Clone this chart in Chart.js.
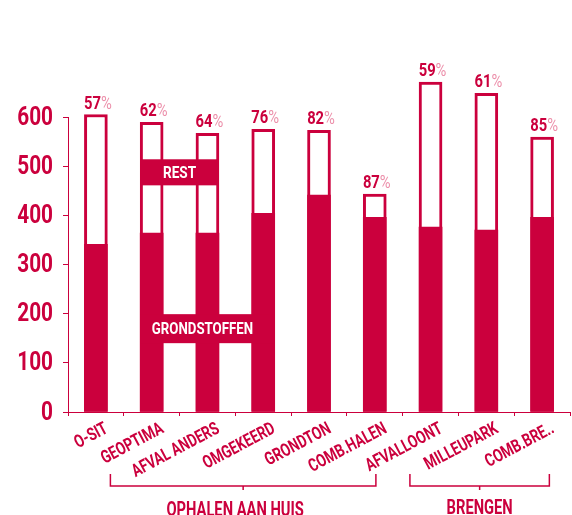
<!DOCTYPE html>
<html>
<head>
<meta charset="utf-8">
<script src="https://cdn.jsdelivr.net/npm/chart.js@4/dist/chart.umd.min.js"></script>
<style>
  html, body { margin: 0; padding: 0; background: #fff; }
  #wrap { width: 572px; height: 515px; }
</style>
</head>
<body>
<div id="wrap"><canvas id="grafiek" width="572" height="515"></canvas></div>
<script>
// data
const categories = ['O-SIT', 'GEOPTIMA', 'AFVAL ANDERS', 'OMGEKEERD', 'GRONDTON', 'COMB.HALEN', 'AFVALLOONT', 'MILLEUPARK', 'COMB.BRE..'];
const totaal = [605, 589, 567, 575, 573, 443, 671, 648, 559];
const grondstoffen = [341, 364, 364, 404, 441, 396, 376, 370, 396];
const percentages = ['57', '62', '64', '76', '82', '87', '59', '61', '85'];
const groepen = ['OPHALEN AAN HUIS', 'BRENGEN'];
const yMax = 600;
const yStap = 100;

const ROOD = '#CB003D';
const ROZE = '#EC8FAA';
const FONT = "Roboto, 'DejaVu Sans', sans-serif";

// tekst smaller tekenen (het origineel gebruikt een smal lettertype)
function smalleTekst(ctx, tekst, x, y, sx, align) {
    ctx.save();
    ctx.translate(x, y);
    ctx.scale(sx, 1);
    ctx.textAlign = align;
    ctx.fillText(tekst, 0, 0);
    ctx.restore();
}

// aslabels zelf tekenen zodat ze smal kunnen
const asLabels = {
    id: 'asLabels',
    afterDraw(chart) {
        const ctx = chart.ctx;
        const x = chart.scales.x;
        const y = chart.scales.y;
        ctx.save();
        ctx.fillStyle = ROOD;
        ctx.textBaseline = 'middle';

        // y-as
        ctx.font = 'bold 26px ' + FONT;
        y.ticks.forEach(t => {
            smalleTekst(ctx, String(t.value), 53, y.getPixelForValue(t.value) + 1, 0.8, 'right');
        });

        // x-as, schuin
        ctx.font = 'bold 18px ' + FONT;
        chart.data.labels.forEach((lab, i) => {
            const px = x.getPixelForTick(i);
            ctx.save();
            ctx.translate(px + 11, x.top + 16);
            ctx.rotate(-28 * Math.PI / 180);
            ctx.scale(0.75, 1);
            ctx.textAlign = 'right';
            ctx.fillText(lab, 0, 0);
            ctx.restore();
        });
        ctx.restore();
    }
};

// extra tekeningen: labels in de staven, percentages en groepshaken
const annotaties = {
    id: 'annotaties',
    afterDatasetsDraw(chart) {
        const ctx = chart.ctx;
        const x = chart.scales.x;
        const y = chart.scales.y;
        const half = 11.5;

        ctx.save();
        ctx.textBaseline = 'middle';

        // REST blok
        let l = x.getPixelForValue(1) - half;
        let r = x.getPixelForValue(2) + half;
        let t = y.getPixelForValue(514);
        let b = y.getPixelForValue(461);
        ctx.fillStyle = ROOD;
        ctx.fillRect(l, t, r - l, b - t);
        ctx.fillStyle = '#fff';
        ctx.font = 'bold 17px ' + FONT;
        smalleTekst(ctx, 'REST', (l + r) / 2, (t + b) / 2 + 1, 0.8, 'center');

        // GRONDSTOFFEN blok
        l = x.getPixelForValue(1) - half;
        r = x.getPixelForValue(3) + half;
        t = y.getPixelForValue(199);
        b = y.getPixelForValue(140);
        ctx.fillStyle = ROOD;
        ctx.fillRect(l, t, r - l, b - t);
        ctx.fillStyle = '#fff';
        smalleTekst(ctx, 'GRONDSTOFFEN', (l + r) / 2 - 5, (t + b) / 2 + 1, 0.78, 'center');

        // percentages boven de staven
        ctx.textBaseline = 'alphabetic';
        const sx = 0.82;
        percentages.forEach((p, i) => {
            const cx = x.getPixelForValue(i);
            const top = y.getPixelForValue(totaal[i]);
            ctx.font = 'bold 18px ' + FONT;
            const w1 = ctx.measureText(p).width * sx;
            ctx.font = '18px ' + FONT;
            const w2 = ctx.measureText('%').width * sx;
            const start = cx - (w1 + w2) / 2 + 2;
            ctx.font = 'bold 18px ' + FONT;
            ctx.fillStyle = ROOD;
            smalleTekst(ctx, p, start, top - 6, sx, 'left');
            ctx.font = '18px ' + FONT;
            ctx.fillStyle = ROZE;
            smalleTekst(ctx, '%', start + w1, top - 6, sx, 'left');
        });

        // groepshaken onder de as: [van, tot, tekstverschuiving]
        const haken = [[0.26, 5.02, -8], [5.63, 8.13, 0]];
        const unit = x.getPixelForValue(1) - x.getPixelForValue(0);
        ctx.strokeStyle = ROOD;
        ctx.lineWidth = 1.5;
        ctx.fillStyle = ROOD;
        ctx.font = 'bold 21px ' + FONT;
        haken.forEach((h, i) => {
            const x1 = x.getPixelForValue(0) + h[0] * unit;
            const x2 = x.getPixelForValue(0) + h[1] * unit;
            const yh = 486;
            ctx.beginPath();
            ctx.moveTo(x1, 474);
            ctx.lineTo(x1, yh);
            ctx.lineTo(x2, yh);
            ctx.lineTo(x2, 474);
            ctx.moveTo((x1 + x2) / 2, yh);
            ctx.lineTo((x1 + x2) / 2, yh + 4);
            ctx.stroke();
            smalleTekst(ctx, groepen[i], (x1 + x2) / 2 + h[2], 514 + (i === 0 ? 2 : 0), 0.7, 'center');
        });

        ctx.restore();
    }
};

const ctx = document.getElementById('grafiek').getContext('2d');
new Chart(ctx, {
    type: 'bar',
    data: {
        labels: categories,
        datasets: [{
            label: 'Totaal',
            data: totaal,
            backgroundColor: '#fff',
            borderColor: ROOD,
            borderWidth: 3,
            borderSkipped: false,
            barThickness: 23,
            grouped: false,
            clip: false,
            order: 2
        }, {
            label: 'Grondstoffen',
            data: grondstoffen,
            backgroundColor: ROOD,
            borderWidth: 0,
            barThickness: 23,
            grouped: false,
            clip: false,
            order: 1
        }]
    },
    options: {
        responsive: false,
        animation: false,
        layout: {
            padding: { top: 117, right: 2, left: 0, bottom: 0 }
        },
        scales: {
            x: {
                grid: {
                    display: true,
                    drawOnChartArea: false,
                    drawTicks: true,
                    tickLength: 4,
                    color: ROOD,
                    offset: true
                },
                border: { display: true, color: ROOD, width: 1 },
                ticks: { display: false, autoSkip: false },
                afterFit: function (scale) {
                    scale.height = 103;
                }
            },
            y: {
                min: 0,
                max: yMax,
                grid: {
                    display: true,
                    drawOnChartArea: false,
                    drawTicks: true,
                    tickLength: 5,
                    color: ROOD
                },
                border: { display: true, color: ROOD, width: 1 },
                ticks: { display: false, stepSize: yStap },
                afterFit: function (scale) {
                    scale.width = 68;
                }
            }
        },
        plugins: {
            legend: { display: false },
            tooltip: { enabled: false }
        }
    },
    plugins: [annotaties, asLabels]
});
</script>
</body>
</html>
